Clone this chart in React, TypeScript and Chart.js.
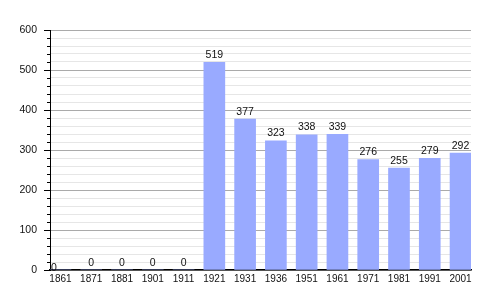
import React, { useEffect, useRef } from "react";
import { Chart, registerables } from "chart.js";

Chart.register(...registerables);

const years = ["1861", "1871", "1881", "1901", "1911", "1921", "1931", "1936", "1951", "1961", "1971", "1981", "1991", "2001"];
const population = [0, 0, 0, 0, 0, 519, 377, 323, 338, 339, 276, 255, 279, 292];
const yMax = 600;
const yMajorStep = 100;
const yMinorStep = 20;

const FONT = "'Liberation Sans', Arial, sans-serif";

const valueLabels = {
  id: "valueLabels",
  afterDatasetsDraw(chart: any) {
    const ctx = chart.ctx;
    const meta = chart.getDatasetMeta(0);
    ctx.save();
    ctx.font = `10.5px ${FONT}`;
    ctx.fillStyle = "#111";
    ctx.textAlign = "center";
    ctx.textBaseline = "alphabetic";
    meta.data.forEach((bar: any, i: number) => {
      const v = population[i];
      let dx = 0;
      let dy = 0;
      if (i === 0) {
        dx = -6.5;
        dy = 5;
      }
      ctx.fillText(String(v), bar.x + dx, bar.y - 4.5 + dy);
    });
    ctx.restore();
  },
};

const minorTicks = {
  id: "minorTicks",
  afterDraw(chart: any) {
    const ctx = chart.ctx;
    const y = chart.scales.y;
    const left = chart.chartArea.left;
    ctx.save();
    ctx.strokeStyle = "#000";
    ctx.lineWidth = 1;
    for (let v = 0; v <= yMax; v += yMinorStep) {
      if (v % yMajorStep === 0) continue;
      const py = Math.round(y.getPixelForValue(v)) + 0.5;
      ctx.beginPath();
      ctx.moveTo(left - 3, py);
      ctx.lineTo(left, py);
      ctx.stroke();
    }
    ctx.restore();
  },
};

export default function App() {
  const ref = useRef<HTMLCanvasElement>(null);
  useEffect(() => {
    if (!ref.current) return;
    const chart = new Chart(ref.current, {
      type: "bar",
      data: {
        datasets: [
          {
            data: population.map((v, i) => ({ x: i, y: v })),
            backgroundColor: "#99aaff",
            borderWidth: 0,
            barThickness: 21,
          },
        ],
      },
      options: {
        responsive: false,
        animation: false,
        maintainAspectRatio: false,
        layout: { padding: { top: 30, right: 29, left: 0, bottom: 0 } },
        plugins: { legend: { display: false }, tooltip: { enabled: false } },
        scales: {
          x: {
            type: "linear",
            offset: false,
            min: -0.34,
            max: 13.34,
            afterBuildTicks: (axis: any) => {
              axis.ticks = years.map((_, i) => ({ value: i }));
            },
            afterFit: (s: any) => {
              s.height = 30;
            },
            grid: { display: false, drawTicks: false, offset: false },
            border: { display: true, color: "#000", width: 1.5 },
            ticks: {
              autoSkip: false,
              maxRotation: 0,
              padding: 3,
              color: "#111",
              font: { family: FONT, size: 10 },
              callback: (v: any) => years[v as number] ?? "",
            },
          },
          y: {
            min: 0,
            max: yMax,
            afterFit: (s: any) => {
              s.width = 50;
            },
            grid: {
              color: (c: any) => (c.tick && c.tick.value % yMajorStep === 0 ? "#aaaaaa" : "#e6e6e6"),
              tickColor: (c: any) => (c.tick && c.tick.value % yMajorStep === 0 ? "#000" : "rgba(0,0,0,0)"),
              tickLength: 6,
              lineWidth: 1,
            },
            border: { display: true, color: "#000", width: 1 },
            ticks: {
              stepSize: yMinorStep,
              autoSkip: false,
              padding: 7,
              color: "#111",
              font: { family: FONT, size: 10.5 },
              callback: (v: any) => ((v as number) % yMajorStep === 0 ? String(v) : ""),
            },
          },
        },
      },
      plugins: [valueLabels, minorTicks],
    } as any);
    return () => chart.destroy();
  }, []);
  return (
    <div style={{ position: "fixed", left: 0, top: 0, width: 500, height: 300, background: "#fff" }}>
      <canvas ref={ref} width={500} height={300} style={{ width: 500, height: 300 }} />
    </div>
  );
}
